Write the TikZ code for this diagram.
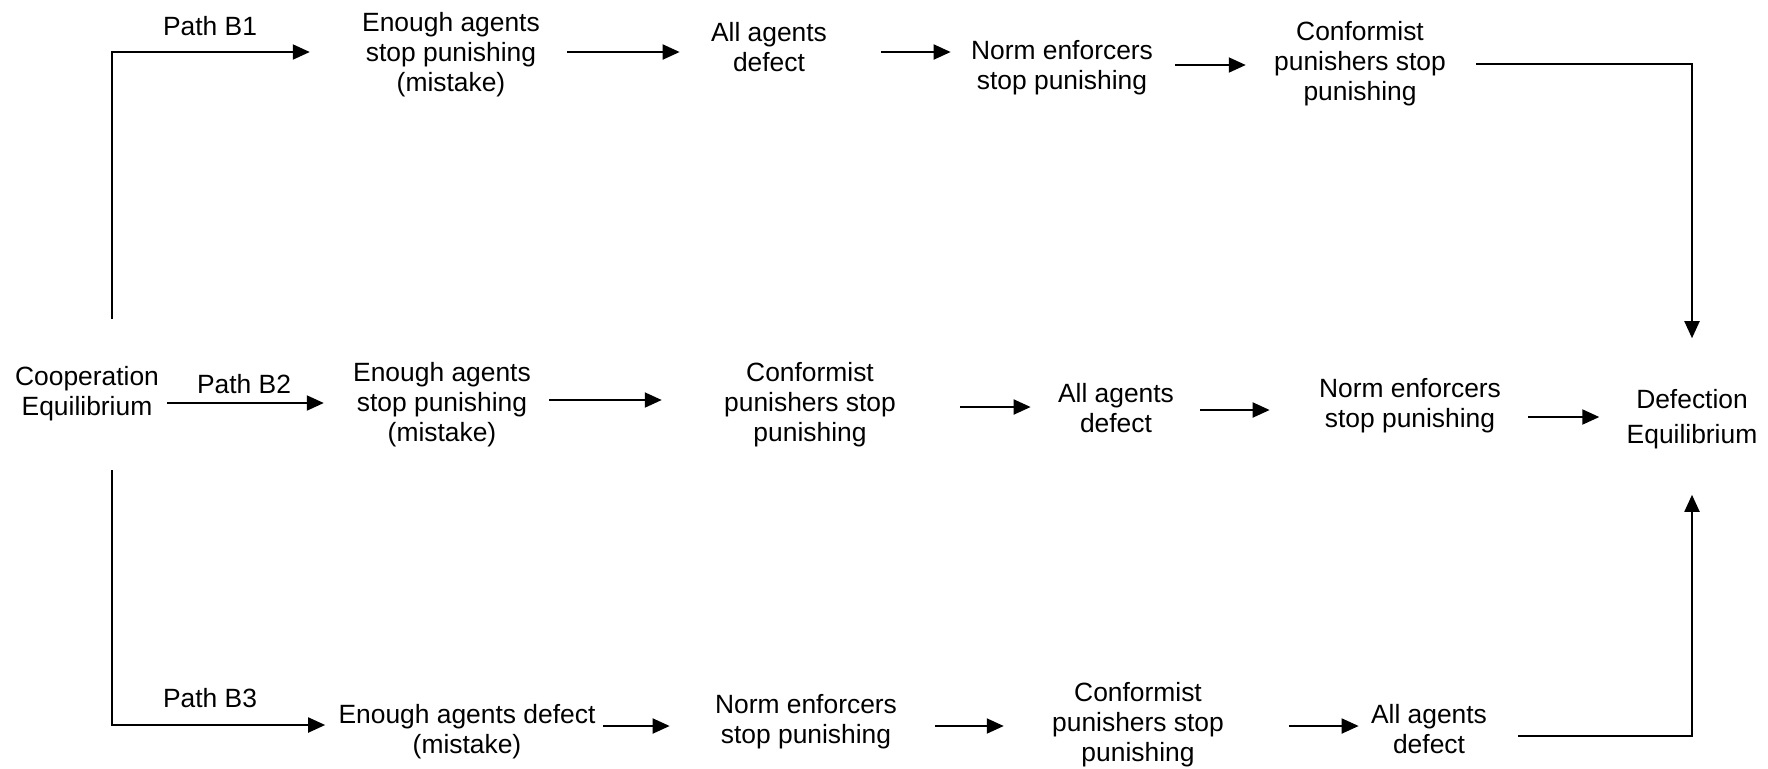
\documentclass[tikz,border=0pt]{standalone}
\usepackage{fontspec}
\setmainfont{Liberation Sans}
\usetikzlibrary{arrows.meta}
\begin{document}
\begin{tikzpicture}[x=0.5pt,y=-0.5pt,
  font=\fontsize{13.2}{15}\selectfont,
  txt/.style={align=center,inner sep=0pt},
  arr/.style={line width=1pt,-{Triangle[length=8.5pt,width=7.5pt]}},
  ln/.style={line width=1pt}]
\useasboundingbox (0,0) rectangle (1768,768);
% nodes
\node[txt] (Coop) at (87,394) {Cooperation\\Equilibrium};
\node[txt,font=\fontsize{13.2}{17.5}\selectfont] (Def) at (1692,419) {Defection\\Equilibrium};
% row 1
\node[txt] (A1) at (451,55) {Enough agents\\stop punishing\\(mistake)};
\node[txt] (A2) at (769,47) {All agents\\defect};
\node[txt] (A3) at (1062,68) {Norm enforcers\\stop punishing};
\node[txt] (A4) at (1360,64) {Conformist\\punishers stop\\punishing};
% row 2
\node[txt] (B1) at (442,405) {Enough agents\\stop punishing\\(mistake)};
\node[txt] (B2) at (810,405) {Conformist\\punishers stop\\punishing};
\node[txt] (B3) at (1116,408) {All agents\\defect};
\node[txt] (B4) at (1410,406) {Norm enforcers\\stop punishing};
% row 3
\node[txt] (C1) at (467,732) {Enough agents defect\\(mistake)};
\node[txt] (C2) at (806,722) {Norm enforcers\\stop punishing};
\node[txt] (C3) at (1138,725) {Conformist\\punishers stop\\punishing};
\node[txt] (C4) at (1429,729) {All agents\\defect};
% path labels
\node[txt] (PB1) at (210,26) {Path B1};
\node[txt] (PB2) at (244,384) {Path B2};
\node[txt] (PB3) at (210,698) {Path B3};
% free ends of the branch lines
\coordinate (up) at (112,319);
\coordinate (dn) at (112,470);
% row 1 connectors
\draw[arr,shorten >=26pt] (up) |- (A1.west |- 0,52);
\draw[arr,shorten <=13.5pt,shorten >=15.5pt] (A1.east |- 0,52) -- (A2.west |- 0,52);
\draw[arr,shorten <=27pt,shorten >=10pt] (A2.east |- 0,52) -- (A3.west |- 0,52);
\draw[arr,shorten <=11pt,shorten >=14pt] (A3.east |- 0,65) -- (A4.west |- 0,65);
\draw[arr,shorten <=15pt,shorten >=25.3pt] (A4.east |- 0,64) -| (Def.north);
% row 2 connectors
\draw[arr,shorten <=4pt,shorten >=14.5pt] (Coop.east |- 0,403) -- (B1.west |- 0,403);
\draw[arr,shorten <=9pt,shorten >=31pt] (B1.east |- 0,400) -- (B2.west |- 0,400);
\draw[arr,shorten <=32pt,shorten >=13.5pt] (B2.east |- 0,407) -- (B3.west |- 0,407);
\draw[arr,shorten <=13pt,shorten >=24.5pt] (B3.east |- 0,410) -- (B4.west |- 0,410);
\draw[arr,shorten <=13.5pt,shorten >=13.5pt] (B4.east |- 0,417) -- (Def.west |- 0,417);
% row 3 connectors
\draw[arr,shorten >=6.5pt] (dn) |- (C1.west |- 0,725);
\draw[arr,shorten <=3.5pt,shorten >=22.5pt] (C1.east |- 0,726) -- (C2.west |- 0,726);
\draw[arr,shorten <=19pt,shorten >=24pt] (C2.east |- 0,726) -- (C3.west |- 0,726);
\draw[arr,shorten <=32.5pt,shorten >=6pt] (C3.east |- 0,726) -- (C4.west |- 0,726);
\draw[arr,shorten <=15.5pt,shorten >=22.8pt] (C4.east |- 0,736) -| (Def.south);
\end{tikzpicture}
\end{document}
